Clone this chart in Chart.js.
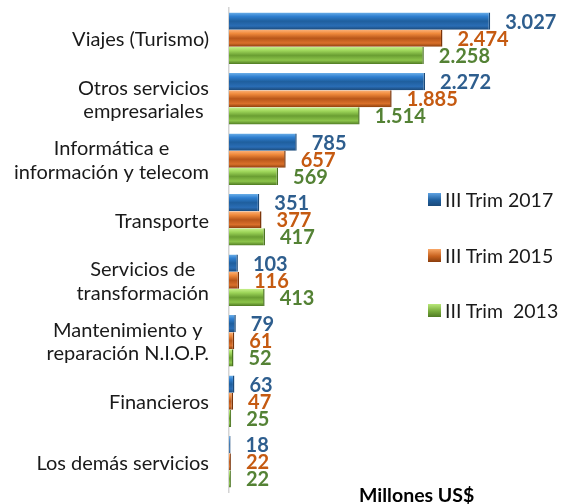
<!DOCTYPE html>
<html>
<head>
<meta charset="utf-8">
<script src="https://cdn.jsdelivr.net/npm/chart.js@4"></script>
<style>
  html, body { margin: 0; padding: 0; background: #fff; }
  #wrap { position: relative; width: 567px; height: 504px; font-family: Lato, sans-serif; }
  .leg { position: absolute; left: 428px; font-size: 19.5px; line-height: 19.5px; color: #1a1a1a; white-space: pre; }
  .leg i { position: absolute; left: 0; top: 3px; width: 13px; height: 13px; }
  .leg span { position: absolute; left: 17px; top: 0; }
  #unit { position: absolute; left: 359px; top: 485px; font-size: 19.5px; line-height: 19.5px; font-weight: bold; color: #000; white-space: pre; }
</style>
</head>
<body>
<div id="wrap">
  <canvas id="chart"></canvas>
  <div class="leg" style="top:190px"><i style="background:linear-gradient(#5fa3e3,#1f5f9e 55%,#1b4a7a)"></i><span>III Trim 2017</span></div>
  <div class="leg" style="top:246px"><i style="background:linear-gradient(#f9a868,#c8621f 55%,#8a3d0c)"></i><span>III Trim 2015</span></div>
  <div class="leg" style="top:301px"><i style="background:linear-gradient(#b9e87a,#78ac3c 55%,#4f7a23)"></i><span>III Trim  2013</span></div>
  <div id="unit">Millones US$</div>
</div>
<script>
const categories = [
  ["Viajes (Turismo)"],
  ["Otros servicios", "empresariales"],
  ["Informática e", "información y telecom"],
  ["Transporte"],
  ["Servicios de", "transformación"],
  ["Mantenimiento y", "reparación N.I.O.P."],
  ["Financieros"],
  ["Los demás servicios"]
];
const seriesNames = ["III Trim 2017", "III Trim 2015", "III Trim  2013"];
const trim2017 = [3027, 2272, 785, 351, 103, 79, 63, 18];
const trim2015 = [2474, 1885, 657, 377, 116, 61, 47, 22];
const trim2013 = [2258, 1514, 569, 417, 413, 52, 25, 22];

const gradStops = [
  ['#6aaee8', '#2f7fd0', '#1f5f9e', '#2a6db5', '#1b4a7a'],
  ['#fbb27a', '#f08a3c', '#b8561a', '#d9702a', '#8a3d0c'],
  ['#c6f08a', '#9ed65a', '#6a9e32', '#8cc44a', '#4f7a23']
];
const labelColors = ['#2e5e8e', '#c55a11', '#548235'];
const borderColors = ['#1b4a7a', '#7a3409', '#4a7320'];

const catPct = 0.85;

// bevel-like gradient per bar, worked out from the category scale
function barFill(ctx) {
  const chart = ctx.chart;
  const y = chart.scales && chart.scales.y;
  const di = ctx.datasetIndex;
  if (!y || !chart.chartArea || ctx.dataIndex === undefined) return gradStops[di][1];
  const pitch = (chart.chartArea.bottom - chart.chartArea.top) / categories.length;
  const group = pitch * catPct;
  const h = group / 3;
  const c = y.getPixelForValue(ctx.dataIndex);
  const top = c - group / 2 + di * h;
  const g = chart.ctx.createLinearGradient(0, top, 0, top + h);
  const s = gradStops[di];
  g.addColorStop(0, s[0]);
  g.addColorStop(0.22, s[1]);
  g.addColorStop(0.5, s[2]);
  g.addColorStop(0.78, s[3]);
  g.addColorStop(1, s[4]);
  return g;
}

const textPlugin = {
  id: 'texts',
  afterDatasetsDraw(chart) {
    const ctx = chart.ctx;
    ctx.save();
    ctx.font = 'bold 20px Lato';
    ctx.textAlign = 'left';
    ctx.textBaseline = 'middle';
    chart.data.datasets.forEach((ds, di) => {
      chart.getDatasetMeta(di).data.forEach((el, i) => {
        ctx.fillStyle = labelColors[di];
        ctx.fillText(ds.data[i].toLocaleString('de-DE'), el.x + 15, el.y + 1);
      });
    });
    // category labels: lines centred on each other, block right-aligned
    const y = chart.scales.y;
    ctx.font = '20px Lato';
    ctx.fillStyle = '#1a1a1a';
    ctx.textAlign = 'center';
    const lh = 23.5;
    categories.forEach((lines, i) => {
      const w = Math.max(...lines.map(l => ctx.measureText(l).width));
      const cx = 209 - w / 2;
      const cy = y.getPixelForValue(i) + 1.5;
      lines.forEach((l, k) => {
        ctx.fillText(l, cx, cy + (k - (lines.length - 1) / 2) * lh);
      });
    });
    ctx.restore();
  }
};

new Chart(document.getElementById('chart'), {
  type: 'bar',
  data: {
    labels: categories,
    datasets: [trim2017, trim2015, trim2013].map((d, i) => ({
      label: seriesNames[i],
      data: d,
      backgroundColor: barFill,
      borderColor: borderColors[i],
      borderWidth: { top: 0, bottom: 0, left: 0, right: 1.5 },
      barPercentage: 1,
      categoryPercentage: catPct
    }))
  },
  options: {
    indexAxis: 'y',
    responsive: true,
    maintainAspectRatio: false,
    animation: false,
    layout: { padding: { top: 8, bottom: 12, right: 36, left: 0 } },
    plugins: {
      legend: { display: false },
      tooltip: { enabled: false }
    },
    scales: {
      x: { display: false, min: 0, max: 3500 },
      y: {
        ticks: { display: false },
        grid: { display: false },
        border: { display: true, color: '#d4d4d4', width: 1.5 },
        afterFit: (s) => { s.width = 229; }
      }
    }
  },
  plugins: [textPlugin]
});
</script>
</body>
</html>
